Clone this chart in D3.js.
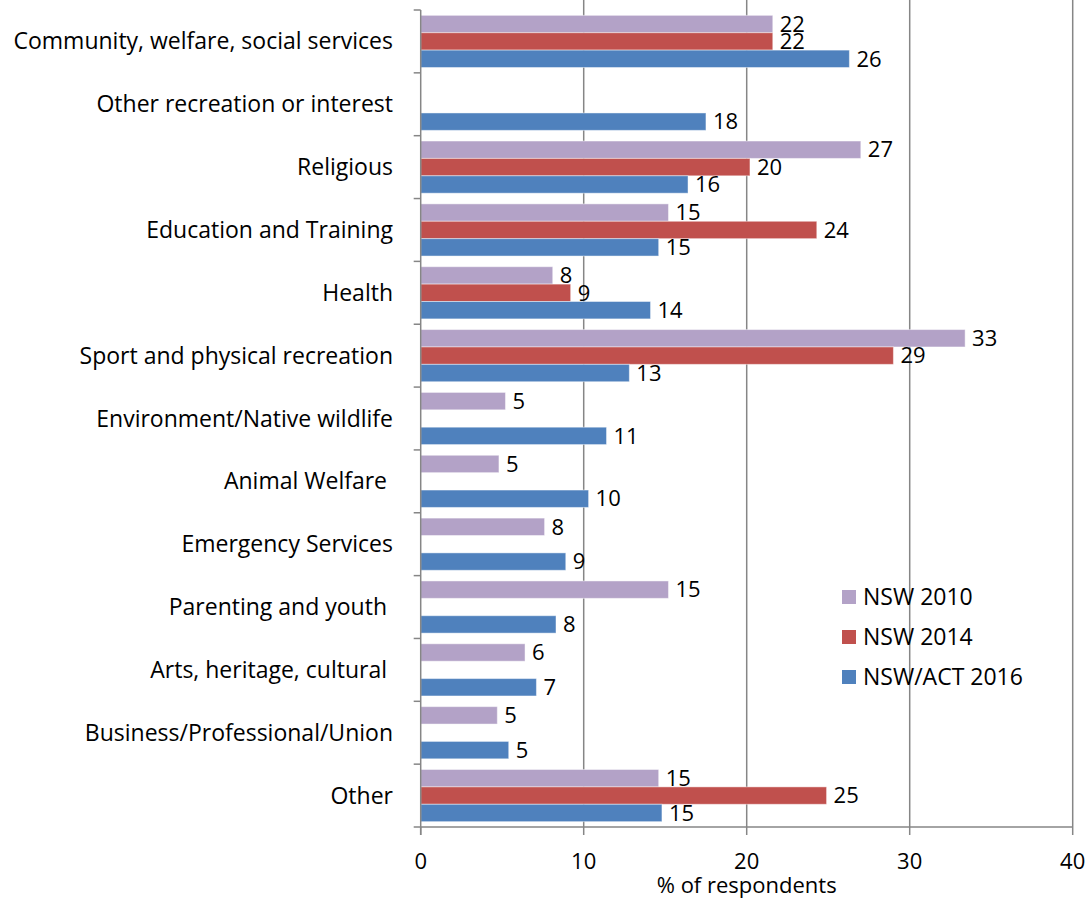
<!DOCTYPE html>
<html>
<head>
<meta charset="utf-8">
<script src="https://cdn.jsdelivr.net/npm/d3@7"></script>
<style>
  body { margin: 0; background: #fff; }
  svg text { font-family: "Open Sans", Lato, sans-serif; fill: #000; white-space: pre; }
</style>
</head>
<body>
<div id="chart"></div>
<script>
var width = 1090, height = 899;

// categories top to bottom
var categories = ["Community, welfare, social services", "Other recreation or interest", "Religious",
  "Education and Training", "Health", "Sport and physical recreation", "Environment/Native wildlife",
  "Animal Welfare ", "Emergency Services", "Parenting and youth ", "Arts, heritage, cultural ",
  "Business/Professional/Union", "Other"];
var seriesNames = ["NSW 2010", "NSW 2014", "NSW/ACT 2016"];
var seriesColors = ["#B3A2C7", "#C0504D", "#4F81BD"];

// % of respondents (null = no bar)
var nsw2010 = [21.6, null, 27.0, 15.2, 8.1, 33.4, 5.2, 4.8, 7.6, 15.2, 6.4, 4.7, 14.6];
var nsw2014 = [21.6, null, 20.2, 24.3, 9.2, 29.0, null, null, null, null, null, null, 24.9];
var nswAct2016 = [26.3, 17.5, 16.4, 14.6, 14.1, 12.8, 11.4, 10.3, 8.9, 8.3, 7.1, 5.4, 14.8];
var xTicks = [0, 10, 20, 30, 40];

var seriesValues = [nsw2010, nsw2014, nswAct2016];

var margin = { left: 420.7, right: 1072.7, top: 10, bottom: 827 };

var svg = d3.select("#chart").append("svg")
  .attr("width", width).attr("height", height);

var x = d3.scaleLinear().domain([0, 40]).range([margin.left, margin.right]);
var y = d3.scaleBand().domain(categories).range([margin.top, margin.bottom])
  .paddingInner(0.17).paddingOuter(0.085);
var ySub = d3.scaleBand().domain(d3.range(3)).range([0, y.bandwidth()]);

// gridlines
svg.append("g").selectAll("line")
  .data(xTicks.slice(1)).enter().append("line")
  .attr("x1", function(d) { return x(d); }).attr("x2", function(d) { return x(d); })
  .attr("y1", 0).attr("y2", margin.bottom)
  .attr("stroke", "#868686").attr("stroke-width", 1.5);

// bars
var rows = [];
categories.forEach(function(c, i) {
  seriesValues.forEach(function(vals, s) {
    if (vals[i] != null) rows.push({ cat: c, s: s, v: vals[i] });
  });
});

var gBars = svg.append("g");
gBars.selectAll("rect").data(rows).enter().append("rect")
  .attr("x", x(0))
  .attr("y", function(d) { return y(d.cat) + ySub(d.s); })
  .attr("width", function(d) { return x(d.v) - x(0); })
  .attr("height", ySub.bandwidth())
  .attr("fill", function(d) { return seriesColors[d.s]; })
  .attr("stroke", "rgba(255,255,255,0.45)").attr("stroke-width", 1);

// value labels
gBars.selectAll("text").data(rows).enter().append("text")
  .attr("x", function(d) { return x(d.v) + 7; })
  .attr("y", function(d) { return y(d.cat) + ySub(d.s) + ySub.bandwidth() / 2; })
  .attr("dy", "0.35em")
  .attr("font-size", 22)
  .text(function(d) { return Math.round(d.v); });

// axes lines
var axisColor = "#868686";
svg.append("line")
  .attr("x1", x(0)).attr("x2", x(0)).attr("y1", margin.top).attr("y2", margin.bottom + 8)
  .attr("stroke", axisColor).attr("stroke-width", 1.5);
svg.append("line")
  .attr("x1", x(0)).attr("x2", x(40)).attr("y1", margin.bottom).attr("y2", margin.bottom)
  .attr("stroke", axisColor).attr("stroke-width", 1.5);

// y ticks at band boundaries
var bounds = categories.map(function(c) { return y(c) - y.step() * y.paddingInner() / 2; });
bounds.push(margin.bottom);
svg.append("g").selectAll("line").data(bounds).enter().append("line")
  .attr("x1", x(0) - 7).attr("x2", x(0))
  .attr("y1", function(d) { return d; }).attr("y2", function(d) { return d; })
  .attr("stroke", axisColor).attr("stroke-width", 1.5);

// x ticks
svg.append("g").selectAll("line").data(xTicks).enter().append("line")
  .attr("x1", function(d) { return x(d); }).attr("x2", function(d) { return x(d); })
  .attr("y1", margin.bottom).attr("y2", margin.bottom + 8)
  .attr("stroke", axisColor).attr("stroke-width", 1.5);
svg.append("g").selectAll("text").data(xTicks).enter().append("text")
  .attr("x", function(d) { return x(d); })
  .attr("y", 869)
  .attr("text-anchor", "middle").attr("font-size", 22)
  .text(function(d) { return d; });

svg.append("text")
  .attr("x", x(20)).attr("y", 893)
  .attr("text-anchor", "middle").attr("font-size", 22)
  .text("% of respondents");

// category labels
svg.append("g").selectAll("text").data(categories).enter().append("text")
  .attr("x", 393)
  .attr("y", function(d) { return y(d) + y.bandwidth() / 2; })
  .attr("dy", "0.35em")
  .attr("text-anchor", "end").attr("font-size", 23)
  .text(function(d) { return d; });

// legend
var legend = svg.append("g").attr("transform", "translate(842,597)");
var lg = legend.selectAll("g").data(seriesNames).enter().append("g")
  .attr("transform", function(d, i) { return "translate(0," + (i * 40) + ")"; });
lg.append("rect").attr("x", 0).attr("y", -7).attr("width", 14).attr("height", 14)
  .attr("fill", function(d, i) { return seriesColors[i]; });
lg.append("text").attr("x", 21).attr("y", 0).attr("dy", "0.35em")
  .attr("font-size", 23).text(function(d) { return d; });
</script>
</body>
</html>
